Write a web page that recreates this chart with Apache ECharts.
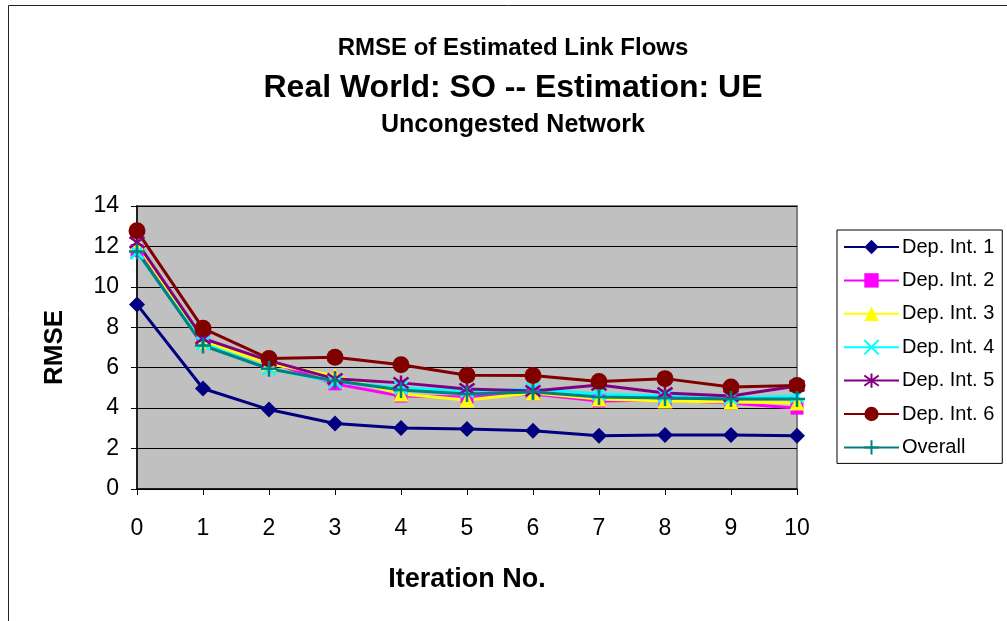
<!DOCTYPE html>
<html>
<head>
<meta charset="utf-8">
<script src="https://cdn.jsdelivr.net/npm/echarts@6/dist/echarts.min.js"></script>
<style>
  html, body { margin: 0; padding: 0; background: #fff; }
  #chart { width: 1007px; height: 621px; }
</style>
</head>
<body>
<div id="chart"></div>
<script>
// Iterations on the x axis
const iterations = ['0', '1', '2', '3', '4', '5', '6', '7', '8', '9', '10'];

// RMSE per departure interval and overall
const depInt1 = [9.13, 4.97, 3.93, 3.24, 3.02, 2.97, 2.88, 2.64, 2.67, 2.67, 2.64];
const depInt2 = [11.8, 7.35, 6.30, 5.20, 4.60, 4.55, 4.70, 4.35, 4.40, 4.25, 4.00];
const depInt3 = [12.1, 7.30, 6.20, 5.60, 4.70, 4.40, 4.75, 4.45, 4.35, 4.30, 4.25];
const depInt4 = [11.7, 7.20, 5.95, 5.30, 5.00, 4.85, 4.95, 4.70, 4.60, 4.50, 4.60];
const depInt5 = [12.2, 7.45, 6.35, 5.45, 5.25, 4.95, 4.85, 5.15, 4.75, 4.60, 5.10];
const depInt6 = [12.77, 7.95, 6.45, 6.52, 6.15, 5.63, 5.61, 5.32, 5.46, 5.05, 5.12];
const overall = [11.75, 7.10, 5.95, 5.35, 4.90, 4.70, 4.80, 4.55, 4.50, 4.45, 4.45];

const yTicks = { min: 0, max: 14, interval: 2 };

const FONT = 'Liberation Sans, Arial, sans-serif';

// Stroke-only marker shapes
const X_SHAPE = 'path://M0,0L10,10M10,0L0,10';
const STAR_SHAPE = 'path://M0,0L10,10M10,0L0,10M5,-2L5,12';
const PLUS_SHAPE = 'path://M5,0L5,10M0,5L10,5';

function series(name, data, color, symbol, size, stroked) {
  return {
    name: name,
    type: 'line',
    data: data,
    symbol: symbol,
    symbolSize: size,
    showSymbol: true,
    lineStyle: { color: color, width: 3 },
    itemStyle: stroked
      ? { color: 'rgba(0,0,0,0)', borderColor: color, borderWidth: 2.5 }
      : { color: color, borderColor: color, borderWidth: 0 },
    emphasis: { disabled: true },
    z: 2
  };
}

const chart = echarts.init(document.getElementById('chart'));

chart.setOption({
  animation: false,
  backgroundColor: '#ffffff',
  graphic: [
    {
      type: 'rect',
      shape: { x: 8.5, y: 5.5, width: 1010, height: 640 },
      style: { fill: 'none', stroke: '#222', lineWidth: 1 },
      silent: true
    },
    {
      type: 'text',
      style: { x: 513, y: 48, text: 'RMSE of Estimated Link Flows', align: 'center', verticalAlign: 'middle',
               font: 'bold 24px ' + FONT, fill: '#000' }
    },
    {
      type: 'text',
      style: { x: 513, y: 88, text: 'Real World: SO -- Estimation: UE', align: 'center', verticalAlign: 'middle',
               font: 'bold 32px ' + FONT, fill: '#000' }
    },
    {
      type: 'text',
      style: { x: 513, y: 125, text: 'Uncongested Network', align: 'center', verticalAlign: 'middle',
               font: 'bold 25px ' + FONT, fill: '#000' }
    }
  ],
  grid: {
    left: 137, right: 210, top: 206, bottom: 132,
    show: true, backgroundColor: '#C0C0C0', borderColor: '#808080', borderWidth: 2
  },
  legend: {
    orient: 'vertical',
    left: 837, top: 230,
    width: 165,
    padding: [7, 8, 6, 6],
    itemWidth: 55, itemHeight: 18, itemGap: 13.4,
    backgroundColor: '#fff',
    borderColor: '#000', borderWidth: 1,
    textStyle: { fontFamily: FONT, fontSize: 20, color: '#000', padding: [0, 0, 0, -2] },
    data: ['Dep. Int. 1', 'Dep. Int. 2', 'Dep. Int. 3', 'Dep. Int. 4', 'Dep. Int. 5', 'Dep. Int. 6', 'Overall']
  },
  xAxis: {
    type: 'category',
    data: iterations,
    boundaryGap: false,
    name: 'Iteration No.',
    nameLocation: 'middle',
    nameGap: 77,
    nameTextStyle: { fontFamily: FONT, fontSize: 27, fontWeight: 'bold', color: '#000' },
    axisLine: { lineStyle: { color: '#000', width: 1.5 } },
    axisTick: { show: true, alignWithLabel: true, length: 6, lineStyle: { color: '#000' } },
    axisLabel: { fontFamily: FONT, fontSize: 23, color: '#000', margin: 28 },
    splitLine: { show: false }
  },
  yAxis: {
    type: 'value',
    min: yTicks.min, max: yTicks.max, interval: yTicks.interval,
    name: 'RMSE',
    nameLocation: 'middle',
    nameRotate: 90,
    nameGap: 69,
    nameTextStyle: { fontFamily: FONT, fontSize: 26, fontWeight: 'bold', color: '#000' },
    axisLine: { show: true, lineStyle: { color: '#000', width: 1.5 } },
    axisTick: { show: true, inside: false, length: 6, lineStyle: { color: '#000' } },
    axisLabel: { fontFamily: FONT, fontSize: 23, color: '#000', margin: 18 },
    splitLine: { show: true, lineStyle: { color: '#000', width: 1 } }
  },
  series: [
    series('Dep. Int. 1', depInt1, '#000080', 'diamond', 16, false),
    series('Dep. Int. 2', depInt2, '#FF00FF', 'rect', 13, false),
    series('Dep. Int. 3', depInt3, '#FFFF00', 'triangle', 15, false),
    series('Dep. Int. 4', depInt4, '#00FFFF', X_SHAPE, 13, true),
    series('Dep. Int. 5', depInt5, '#800080', STAR_SHAPE, 15, true),
    series('Dep. Int. 6', depInt6, '#800000', 'circle', 17, false),
    series('Overall', overall, '#008080', PLUS_SHAPE, 16, true)
  ]
});
</script>
</body>
</html>
